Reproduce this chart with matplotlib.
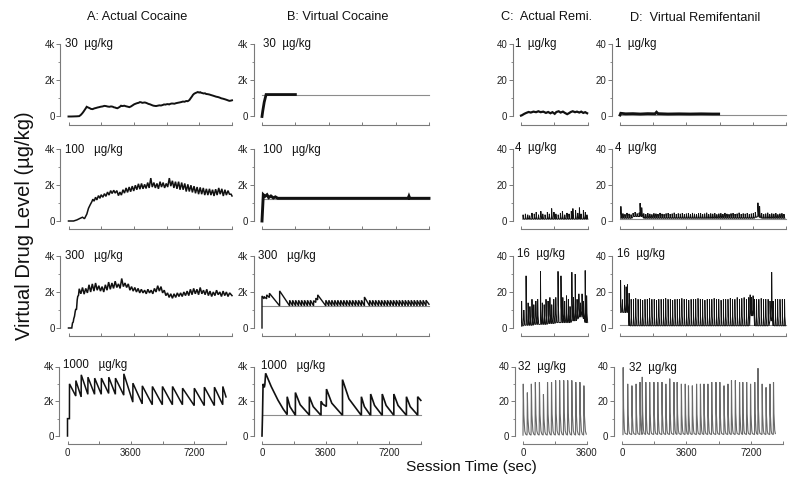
import matplotlib
matplotlib.use("Agg")
import matplotlib.pyplot as plt

plt.rcParams['font.family'] = ['Liberation Sans', 'DejaVu Sans']

# ---------------------------------------------------------------- data
col_titles = ["A: Actual Cocaine", "B: Virtual Cocaine", "C:  Actual Remi.", "D:  Virtual Remifentanil"]
coc_doses = ["30", "100", "300", "1000"]
remi_doses = ["1", "4", "16", "32"]
dose_unit = "\u00b5g/kg"

long_xticks = [0, 1800, 3600, 5400, 7200, 9000]
long_xlabels = ["0", "", "3600", "", "7200", ""]
short_xticks = [0, 1800, 3600]
short_xlabels = ["0", "", "3600"]
coc_yticks = [0, 2000, 4000]
coc_ylabels = ["0", "2k", "4k"]
coc_yminor = [1000, 3000]
remi_yticks = [0, 20, 40]
remi_ylabels = ["0", "20", "40"]
remi_yminor = [10, 30]

# A: actual cocaine (time s, level ug/kg)
A1 = [(0,0),(150,0),(300,5),(450,10),(590,20),(680,90),(760,180),(820,260),(900,380),(960,470),(1000,540),
      (1080,500),(1150,470),(1240,420),(1330,410),(1420,450),(1500,470),(1600,500),(1690,520),(1780,545),
      (1880,560),(1970,590),(2060,580),(2150,555),(2250,540),(2340,560),(2430,545),(2500,510),(2560,500),
      (2630,470),(2700,460),(2760,500),(2800,520),(2850,560),(2890,600),(2980,580),(3070,600),(3140,575),
      (3200,560),(3280,540),(3350,520),(3440,560),(3530,620),(3620,680),(3720,720),(3790,745),(3860,760),
      (3930,800),(3990,790),(4060,760),(4130,770),(4200,780),(4270,760),(4340,730),(4400,700),(4480,680),
      (4550,650),(4620,620),(4680,600),(4750,590),(4820,580),(4910,600),(5000,620),(5090,610),(5190,640),
      (5260,670),(5330,660),(5400,680),(5470,690),(5540,670),(5600,700),(5670,720),(5740,720),(5830,710),
      (5920,740),(6010,760),(6110,780),(6200,800),(6300,830),(6390,820),(6480,860),(6560,850),(6610,880),
      (6660,920),(6700,980),(6750,1050),(6800,1120),(6850,1200),(6910,1260),(6980,1300),(7050,1330),
      (7120,1360),(7160,1340),(7200,1330),(7250,1350),(7300,1320),(7370,1300),(7440,1280),(7510,1290),
      (7580,1250),(7670,1240),(7760,1220),(7850,1190),(7950,1160),(8040,1130),(8130,1100),(8230,1080),
      (8320,1050),(8410,1010),(8500,990),(8600,960),(8690,930),(8770,900),(8850,870),(8930,880),(9000,900)]
A2 = [(0,0),(280,0),(460,60),(640,150),(770,210),(880,130),(1010,390),(1100,710),(1190,900),(1290,1090),
      (1340,1220),(1410,1110),(1490,1330),(1560,1180),(1650,1420),(1730,1270),(1800,1470),(1890,1330),
      (1980,1530),(2060,1380),(2150,1620),(2230,1450),(2320,1700),(2400,1540),(2490,1720),(2570,1560),
      (2660,1700),(2750,1420),(2830,1620),(2910,1450),(3000,1750),(3080,1560),(3170,1850),(3250,1600),
      (3340,1900),(3420,1640),(3510,1950),(3590,1680),(3680,2000),(3760,1750),(3850,2080),(3930,1780),
      (4020,2100),(4100,1800),(4190,2050),(4270,1820),(4360,2150),(4440,1850),(4530,2400),(4610,1900),
      (4700,2150),(4780,1850),(4870,2100),(4950,1800),(5040,2200),(5120,1900),(5210,2150),(5290,1850),
      (5380,2100),(5460,1900),(5550,2400),(5630,1950),(5720,2250),(5800,1850),(5890,2200),(5970,1800),
      (6060,2200),(6140,1750),(6230,2150),(6310,1750),(6400,2100),(6480,1650),(6570,2050),(6650,1650),
      (6740,2000),(6820,1600),(6910,1950),(6990,1550),(7080,1900),(7160,1500),(7250,1880),(7330,1500),
      (7420,1850),(7500,1450),(7590,1800),(7670,1450),(7760,1800),(7840,1450),(7930,1750),(8010,1400),
      (8100,1780),(8180,1450),(8270,1850),(8350,1500),(8440,1800),(8520,1400),(8610,1750),(8690,1450),
      (8780,1700),(8860,1500),(8950,1500),(9000,1400)]
A3 = [(0,0),(180,0),(220,280),(260,330),(290,520),(330,650),(370,920),(400,1050),(440,1020),(480,1570),
      (510,1760),(550,1810),(590,2180),(680,1900),(770,2250),(860,1880),(950,2200),(1040,1950),(1130,2400),
      (1220,2000),(1310,2450),(1400,2050),(1490,2500),(1580,2100),(1670,2350),(1760,2050),(1850,2300),
      (1940,2000),(2030,2400),(2120,2100),(2210,2550),(2300,2150),(2390,2500),(2480,2200),(2570,2600),
      (2660,2250),(2750,2450),(2840,2200),(2930,2750),(3020,2300),(3110,2500),(3200,2250),(3290,2450),
      (3380,2100),(3470,2300),(3560,2050),(3650,2250),(3740,2000),(3830,2200),(3920,1950),(4010,2150),
      (4100,1950),(4190,2100),(4280,1900),(4370,2150),(4460,1950),(4550,2100),(4640,1900),(4730,2200),
      (4820,2000),(4910,2350),(5000,2050),(5090,2300),(5180,1950),(5270,2100),(5360,1800),(5450,1950),
      (5540,1700),(5630,1900),(5720,1650),(5810,1900),(5900,1700),(5990,1950),(6080,1750),(6170,1950),
      (6260,1750),(6350,2000),(6440,1800),(6530,2050),(6620,1800),(6710,2150),(6800,1850),(6890,2200),
      (6980,1900),(7070,2150),(7160,1850),(7250,2250),(7340,1900),(7430,2100),(7520,1850),(7610,2150),
      (7700,1800),(7790,2050),(7880,1750),(7970,2000),(8060,1800),(8150,2100),(8240,1850),(8330,2000),
      (8420,1750),(8510,2050),(8600,1800),(8690,2000),(8780,1750),(8870,1950),(9000,1800)]
A4 = [(0,0),(0,1000),(110,1000),(114,3000),(470,2300),(476,3190),(775,2250),(781,3520),(1155,2400),
      (1162,3385),(1537,2400),(1543,3330),(1918,2400),(1924,3330),(2337,2450),(2343,3385),(2718,2400),
      (2724,3330),(3194,2350),(3200,3580),(3709,1950),(3715,3040),(4242,1850),(4248,2885),(4814,1800),
      (4820,2850),(5385,1800),(5391,2850),(5957,1800),(5963,2850),(6528,1800),(6534,2750),(7195,1750),
      (7201,2750),(7766,1750),(7772,2810),(8338,1750),(8344,2810),(8814,1800),(8820,2850),(9000,2250)]

# B: virtual cocaine
B_threshold = [1220, 1250, 1230, 1230]
B1 = [(0,0),(40,300),(120,800),(220,1220),(1800,1220)]
B2 = [(0,0),(70,1470),(160,1380),(270,1470),(360,1310),(480,1400),(610,1290),(720,1350),(850,1270),
      (7880,1270),(7920,1380),(7960,1270),(9000,1270)]
# injection events: (time, level before, level after)
B3_events = [(0,0,1780),(110,1620,1750),(250,1620,1840),(400,1690,1930),(950,1230,2060),
             (1490,1230,1540),(1650,1230,1540),(1810,1230,1540),(1970,1230,1540),(2130,1230,1540),
             (2290,1230,1540),(2450,1230,1540),(2610,1230,1540),(2780,1230,1520),(2900,1420,1660),
             (3000,1560,1840),(3440,1230,1540),(3600,1230,1540),(3760,1230,1540),(3920,1230,1540),
             (4080,1230,1540),(4240,1230,1540),(4400,1230,1540),(4560,1230,1540),(4720,1230,1540),
             (4880,1230,1540),(5040,1230,1540),(5200,1230,1540),(5360,1230,1540),(5520,1230,1720),
             (5800,1230,1540),(5960,1230,1540),(6120,1230,1540),(6280,1230,1540),(6440,1230,1540),
             (6600,1230,1540),(6760,1230,1540),(6920,1230,1540),(7080,1230,1540),(7240,1230,1540),
             (7400,1230,1540),(7560,1230,1540),(7720,1230,1540),(7880,1230,1540),(8040,1230,1540),
             (8200,1230,1540),(8360,1230,1540),(8520,1230,1540),(8680,1230,1540),(8840,1230,1540)]
B3_end = (9000, 1320)
B4 = [(0,0),(30,1230),(60,3000),(130,2800),(160,2950),(206,3610),(525,2840),(900,2070),(1200,1550),
      (1425,1230),(1425,2260),(1580,1690),(1870,1230),(1890,1230),(1890,2500),(2160,1800),(2660,1230),
      (2680,1230),(2680,2260),(2900,1690),(3300,1230),(3340,1230),(3340,2000),(3440,1830),(3640,1700),
      (3650,2700),(3950,1890),(4520,1230),(4556,1230),(4556,3245),(4920,2140),(5588,1230),(5625,1230),
      (5625,2260),(5795,1690),(6112,1230),(6150,1230),(6150,2415),(6370,1760),(6770,1230),(6806,1230),
      (6806,2415),(7025,1760),(7430,1230),(7462,1230),(7462,2415),(7700,1760),(8140,1230),(8175,1230),
      (8175,2260),(8390,1690),(8790,1230),(8812,1230),(8812,2260),(8990,2050)]

# C: actual remifentanil
C1 = [(0,0.5),(50,0.7),(180,1.5),(285,2.0),(410,2.5),(530,2.2),(675,2.7),(815,2.4),(940,2.9),(1065,2.4),
      (1205,2.7),(1350,2.0),(1470,2.5),(1595,1.8),(1700,2.4),(1825,1.5),(1915,2.5),(2040,2.9),(2145,2.2),
      (2270,2.7),(2375,2.0),(2500,1.3),(2590,1.8),(2695,2.5),(2800,2.9),(2925,2.4),(3030,2.7),(3155,2.2),
      (3260,2.7),(3370,2.0),(3475,2.4),(3580,1.8)]
# spikes: (time, peak, trough)
C2 = [(105,3.5,1),(230,4,1),(355,3.5,1),(460,3,1),(585,4.5,1),(710,4,1),(815,5,1),(940,3.5,1),
      (1065,5.5,1),(1170,4,1),(1295,3.5,1),(1420,5,1),(1525,4,1),(1650,7,1),(1775,5,1),(1880,4,1),
      (2005,3.5,1),(2125,4.5,1),(2235,5.5,1),(2360,3.5,1),(2480,4.5,1),(2590,4,1),(2715,5.5,1),
      (2800,7,1),(2945,6,1),(3065,4.5,1),(3155,7.5,1),(3245,4,1),(3370,6,1),(3475,5,1),(3560,3.5,1)]
C3 = [(30,15,1),(150,10,1.5),(270,29,1.5),(380,14,1.5),(480,12,1.5),(590,16,1.5),(690,13,2),(800,15,2),
      (900,16,2),(1050,31.5,2),(1150,14,2),(1250,13,2),(1350,16,2),(1460,15,2.5),(1560,17,2.5),
      (1660,13,2.5),(1770,16,2.5),(1880,17,3),(2000,31.5,3),(2160,29,3),(2260,17,3),(2360,15,3),
      (2460,18,3),(2560,16,3),(2650,12,3),(2750,31,4),(2840,17,4),(2930,30,4),(3030,16,5),(3130,19,6),
      (3220,14,7),(3300,19,6),(3380,15,5),(3470,32,3),(3550,18,3)]
C4 = [(0,30,0.5),(230,25,0.5),(455,30,0.5),(680,31,0.5),(910,31,0.5),(1135,24,0.5),(1365,31,0.5),
      (1590,31,0.5),(1820,32,0.5),(2045,32,0.5),(2275,32,0.5),(2500,32,0.5),(2730,32,0.5),(2955,31,0.5),
      (3185,31,0.5),(3410,29,0.5)]

# D: virtual remifentanil
D_threshold = [0.9, 1.2, 1.4, None]
D1 = [(0,0.8),(40,1.8),(300,1.5),(700,1.6),(1100,1.4),(1500,1.6),(1900,1.5),(1980,2.4),(2060,1.6),
      (2600,1.4),(3200,1.5),(3800,1.4),(4400,1.5),(5000,1.4),(5350,1.4)]
D2 = [(40,8.2,1.5),(150,4.2,1.5),(260,3.8,1.5),(370,4.5,1.5),(480,4,1.5),(590,3.6,1.5),(700,4.4,2.5),
      (810,5,2.5),(920,4.2,2.5),(1030,4.6,2.5),(1080,10,3),(1170,7.5,2.5),(1280,4.2,1.5),(1390,3.8,1.5),
      (1500,4.4,1.5),(1610,4,1.5),(1720,3.7,1.5),(1830,4.3,1.5),(1940,4.1,1.5),(2050,3.9,1.5),
      (2160,4.5,1.5),(2270,4,1.5),(2380,3.8,1.5),(2490,4.2,1.5),(2600,4.4,1.5),(2710,3.9,1.5),
      (2820,4.1,1.5),(2930,4.6,1.5),(3040,3.8,1.5),(3150,4.2,1.5),(3260,4,1.5),(3370,4.4,1.5),
      (3480,3.7,1.5),(3590,4.1,1.5),(3700,4.3,1.5),(3810,3.9,1.5),(3920,4.5,1.5),(4030,4,1.5),
      (4140,3.8,1.5),(4250,4.2,1.5),(4360,4.4,1.5),(4470,3.9,1.5),(4580,4.1,1.5),(4690,4.6,1.5),
      (4800,3.8,1.5),(4910,4.2,1.5),(5020,4,1.5),(5130,4.4,1.5),(5240,3.7,1.5),(5350,4.1,1.5),
      (5460,4.3,1.5),(5570,3.9,1.5),(5680,4.5,1.5),(5790,4,1.5),(5900,3.8,1.5),(6010,4.2,1.5),
      (6120,4.4,1.5),(6230,3.9,1.5),(6340,4.1,1.5),(6450,4.6,1.5),(6560,3.8,1.5),(6670,4.2,1.5),
      (6780,4,1.5),(6890,4.4,1.5),(7000,3.7,1.5),(7110,4.1,1.5),(7220,4.3,1.5),(7330,5,2),
      (7470,10.2,2.5),(7560,8.2,2),(7670,4.4,1.5),(7780,3.9,1.5),(7890,4.1,1.5),(8000,4.6,1.5),
      (8110,3.8,1.5),(8220,4.2,1.5),(8330,4,1.5),(8440,4.4,1.5),(8550,3.7,1.5),(8660,4.1,1.5),
      (8770,4.3,1.5),(8880,3.9,1.5)]
D3 = [(30,26.5,8.6),(126,15.8,8.6),(235,23.9,8.6),(325,23,8.6),(398,24.2,8.6),(488,19.4,1.2),
      (600,16,1.2),(725,16,1.2),(850,16.5,1.2),(975,16,1.2),(1100,16,1.2),(1225,15.5,1.2),(1350,16,1.2),
      (1475,16,1.2),(1600,16.5,1.2),(1725,16,1.2),(1850,16,1.2),(1975,15.5,1.2),(2100,16,1.2),
      (2225,16,1.2),(2350,16,1.2),(2475,16.5,1.2),(2600,16,1.2),(2725,16,1.2),(2850,15.5,1.2),
      (2975,16,1.2),(3100,16,1.2),(3225,16,1.2),(3350,16.5,1.2),(3475,16,1.2),(3600,16,1.2),
      (3725,15.5,1.2),(3850,16,1.2),(3975,16,1.2),(4100,16,1.2),(4225,16.5,1.2),(4350,16,1.2),
      (4475,16,1.2),(4600,15.5,1.2),(4725,16,1.2),(4850,16,1.2),(4975,16,1.2),(5100,16.5,1.2),
      (5225,16,1.2),(5350,16,1.2),(5475,15.5,1.2),(5600,16,1.2),(5725,16,1.2),(5850,16,1.2),
      (5975,16.5,1.2),(6100,16,1.2),(6225,16,1.2),(6350,17,1.2),(6475,16,1.2),(6600,16.5,1.2),
      (6725,17,1.2),(6850,16,1.2),(6975,17,1.2),(7050,18.5,6.8),(7130,17,6.8),(7210,18,6.8),
      (7290,16,1.2),(7400,16,1.2),(7525,16,1.2),(7650,16.5,1.2),(7775,16,1.2),(7900,16,1.2),
      (8025,16,1.2),(8130,15,4),(8222,31,4),(8300,15,1.2),(8420,16,1.2),(8545,16,1.2),(8670,16,1.2),
      (8795,16,1.2),(8920,16,1.2)]
D4 = [(54,39.5,0.8),(307,30,0.8),(542,29,0.8),(777,30,0.8),(994,31,0.8),(1120,34,0.8),(1319,31,0.8),
      (1536,31,0.8),(1771,31,0.8),(1988,31,0.8),(2223,31,0.8),(2439,30,0.8),(2656,33,0.8),(2891,31,0.8),
      (3072,31,0.8),(3307,30,0.8),(3524,30,0.8),(3704,29,0.8),(3921,29,0.8),(4156,30,0.8),(4373,30,0.8),
      (4572,30,0.8),(4789,30,0.8),(5005,31,0.8),(5240,31,0.8),(5457,31,0.8),(5692,29,0.8),(5909,30,0.8),
      (6108,32,0.8),(6325,32,0.8),(6559,31,0.8),(6740,31,0.8),(6957,31,0.8),(7174,30,0.8),(7409,31,0.8),
      (7590,39,0.8),(7824,30,0.8),(8041,28,0.8),(8258,30,0.8),(8457,31,0.8)]

# spike profiles: offsets (s) and fraction of peak height
small_spike_dt, small_spike_frac = [0, 8, 25, 60], [0, 1, 0.4, 0]
mid_spike_dt, mid_spike_frac = [0, 4, 20, 60], [0, 1, 0.35, 0]
big_spike_dt, big_spike_frac = [0, 15, 45, 100, 150], [0, 1, 0.4, 0.08, 0.02]
big_spike_dt_d, big_spike_frac_d = [0, 12, 35, 80, 115], [0, 1, 0.4, 0.08, 0.02]


# ---------------------------------------------------------------- helpers
def from_pairs(pairs):
    t, v = zip(*pairs)
    return list(t), list(v)


def from_events(events, end):
    t, v = [], []
    for te, before, after in events:
        t += [te, te]
        v += [before, after]
    t.append(end[0]); v.append(end[1])
    return t, v


def from_spikes(spikes, dts, fracs):
    t, v = [], []
    for ts, p, b in spikes:
        for d, f in zip(dts, fracs):
            t.append(ts + d)
            v.append(b + (p - b) * f)
    return t, v


W, H = 800, 491
fig = plt.figure(figsize=(W / 100, H / 100), dpi=100)
fig.patch.set_facecolor('white')

row_top = [44.5, 149.5, 256, 366.5]
row_bot = [116.5, 221, 328, 436]
col_x0 = [68.5, 262, 521, 620]
col_x1 = [232, 429, 587.5, 786]
row4_x0 = [67.5, 262, 523, 622]
row4_x1 = [226, 421, 587, 783]
SPINE = '#7a7a7a'


def make_ax(c, r):
    if r == 3:
        x0, x1 = row4_x0[c], row4_x1[c]
    else:
        x0, x1 = col_x0[c], col_x1[c]
    yt, yb = row_top[r], row_bot[r]
    ax = fig.add_axes([x0 / W, 1 - yb / H, (x1 - x0) / W, (yb - yt) / H])
    ax.set_facecolor('none')
    for s in ['top', 'right']:
        ax.spines[s].set_visible(False)
    for s in ['left', 'bottom']:
        ax.spines[s].set_position(('outward', 5.8))
        ax.spines[s].set_color(SPINE)
        ax.spines[s].set_linewidth(0.8)
    coc = c < 2
    if c == 2:
        ax.set_xlim(0, 3600)
        ax.set_xticks(short_xticks)
        ax.set_xticklabels(short_xlabels if r == 3 else [''] * 3)
    else:
        ax.set_xlim(0, 9000)
        ax.set_xticks(long_xticks)
        ax.set_xticklabels(long_xlabels if r == 3 else [''] * 6)
    if coc:
        ax.set_ylim(0, 4000)
        ax.set_yticks(coc_yticks)
        ax.set_yticklabels(coc_ylabels)
        ax.set_yticks(coc_yminor, minor=True)
    else:
        ax.set_ylim(0, 40)
        ax.set_yticks(remi_yticks)
        ax.set_yticklabels(remi_ylabels)
        ax.set_yticks(remi_yminor, minor=True)
    ax.tick_params(axis='x', which='major', direction='in', length=2.2, width=0.7, color=SPINE,
                   labelsize=7, pad=3.2, labelcolor='#222')
    ax.tick_params(axis='y', which='major', direction='out', length=2.6, width=0.7, color=SPINE,
                   labelsize=7, pad=1.5, labelcolor='#222')
    ax.tick_params(axis='y', which='minor', direction='out', length=1.6, width=0.6, color=SPINE)
    return ax


def line(ax, t, v, lw=1.1, color='#111111', z=3):
    ax.plot(t, v, color=color, lw=lw, clip_on=False, zorder=z, solid_joinstyle='miter')


def thr_line(ax, level, xmax=9000):
    ax.plot([0, xmax], [level, level], color='#8c8c8c', lw=0.8, clip_on=False, zorder=2)


axes = [[make_ax(c, r) for c in range(4)] for r in range(4)]

# column A
line(axes[0][0], *from_pairs(A1), lw=1.4)
line(axes[1][0], *from_pairs(A2), lw=1.1)
line(axes[2][0], *from_pairs(A3), lw=1.1)
line(axes[3][0], *from_pairs(A4), lw=1.1)

# column B
for r in range(4):
    thr_line(axes[r][1], B_threshold[r])
line(axes[0][1], *from_pairs(B1), lw=2.0)
line(axes[1][1], *from_pairs(B2), lw=2.1)
line(axes[2][1], *from_events(B3_events, B3_end), lw=1.0)
line(axes[3][1], *from_pairs(B4), lw=1.2)

# column C
line(axes[0][2], *from_pairs(C1), lw=1.6)
line(axes[1][2], *from_spikes(C2, small_spike_dt, small_spike_frac), lw=0.7)
line(axes[2][2], *from_spikes(C3, mid_spike_dt, mid_spike_frac), lw=0.65)
line(axes[3][2], *from_spikes(C4, big_spike_dt, big_spike_frac), lw=0.8, color='#6a6a6a')

# column D
for r in range(3):
    thr_line(axes[r][3], D_threshold[r])
line(axes[0][3], *from_pairs(D1), lw=2.0)
line(axes[1][3], *from_spikes(D2, small_spike_dt, small_spike_frac), lw=0.7)
line(axes[2][3], *from_spikes(D3, mid_spike_dt, mid_spike_frac), lw=0.6)
line(axes[3][3], *from_spikes(D4, big_spike_dt_d, big_spike_frac_d), lw=0.8, color='#6a6a6a')

# dose labels (pixel anchors)
label_pos = [
    [(65, 44.5), (263, 44.5), (515, 44), (615, 44)],
    [(65, 150), (263, 150), (515, 148), (615, 148)],
    [(65, 256), (258, 256), (517, 254), (617, 254)],
    [(63, 365), (261, 366), (518, 367), (629, 368)],
]
for r in range(4):
    for c in range(4):
        if c < 2:
            txt = coc_doses[r] + ("  " if r == 0 else "   ") + dose_unit
        else:
            txt = remi_doses[r] + "  " + dose_unit
        x, y = label_pos[r][c]
        fig.text(x / W, 1 - y / H, txt, fontsize=8.3, ha='left', va='center', color='#111')

# column titles
title_pos = [(137, 17), (338, 17), (547, 17), (695, 18)]
for t, (x, y) in zip(col_titles, title_pos):
    fig.text(x / W, 1 - y / H, t, fontsize=9.2, ha='center', va='center', color='#111')

fig.text(25 / W, 1 - 226 / H, "Virtual Drug Level (\u00b5g/kg)", rotation=90, fontsize=14.5,
         ha='center', va='center', color='#111')
fig.text(471 / W, 1 - 467 / H, "Session Time (sec)", fontsize=11.1, ha='center', va='center', color='#111')

fig.savefig("out.png", dpi=100, facecolor='white')
